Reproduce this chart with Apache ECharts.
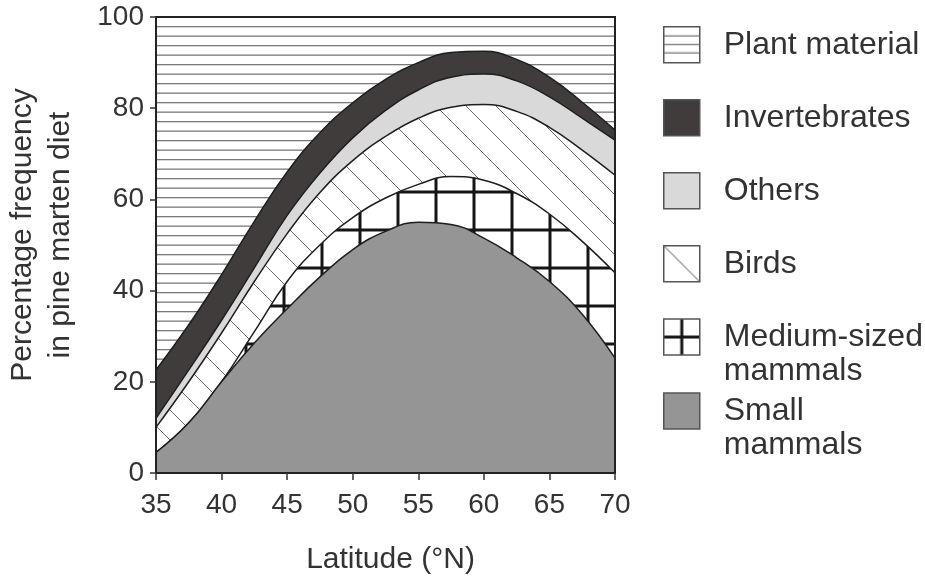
<!DOCTYPE html>
<html>
<head>
<meta charset="utf-8">
<script src="https://cdn.jsdelivr.net/npm/echarts@6/dist/echarts.min.js"></script>
<style>
html,body{margin:0;padding:0;background:#fff;}
#c{width:925px;height:579px;}
</style>
</head>
<body>
<div id="c"></div>
<script>
// ---- data ----
const latitudes = [35, 37.5, 40, 42.5, 45, 47.5, 50, 52.5, 55, 57.5, 60, 62.5, 65, 67.5, 70];
const smallMammals  = [4.5, 11, 20, 28.5, 36, 43, 49, 53, 55, 54.5, 51.5, 47.2, 42, 34.8, 25.2];
const mediumMammals = [0, 0, 0, 2.5, 6, 7, 7, 7.3, 8.3, 10.5, 12.7, 14.1, 14.8, 16, 18.7];
const birds         = [5.5, 9, 10.7, 11, 10.5, 11.5, 12.5, 13.5, 14.5, 15.2, 16.6, 18, 19, 20, 21.4];
const others        = [2, 2.6, 2.8, 3, 4, 4.3, 5, 5.7, 6.2, 6.6, 6.7, 6.7, 6.7, 7, 7.7];
const invertebrates = [10.6, 9.9, 10, 10.2, 9.5, 8.8, 7.7, 6.8, 6, 5.4, 5, 4.7, 4.3, 3.5, 2.2];
const plantMaterial = [77.4, 67.5, 56.5, 44.8, 34, 25.4, 18.8, 13.7, 10, 7.8, 7.5, 9.3, 13.2, 18.7, 24.8];
const seriesNames = ['Plant material', 'Invertebrates', 'Others', 'Birds', 'Medium-sized mammals', 'Small mammals'];
const xTicks = [35, 40, 45, 50, 55, 60, 65, 70];
const yTicks = [0, 20, 40, 60, 80, 100];

// ---- pattern helpers ----
function tile(w, h, draw) {
  const c = document.createElement('canvas');
  c.width = w; c.height = h;
  const ctx = c.getContext('2d');
  draw(ctx, w, h);
  return c;
}
const plantTile = tile(4, 19, (ctx, w, h) => {
  ctx.fillStyle = '#fff'; ctx.fillRect(0, 0, w, h);
  ctx.fillStyle = '#7a7a7a';
  ctx.fillRect(0, 7, w, 1.3);
  ctx.fillRect(0, 16.5, w, 1.3);
});
const birdTile = tile(30, 30, (ctx, w, h) => {
  ctx.fillStyle = '#fff'; ctx.fillRect(0, 0, w, h);
  ctx.strokeStyle = '#6a6a6a'; ctx.lineWidth = 1;
  for (const o of [-w, 0, w]) {
    ctx.beginPath(); ctx.moveTo(o - 2, -2); ctx.lineTo(o + w + 2, h + 2); ctx.stroke();
  }
});
const gridTile = tile(38, 38, (ctx, w, h) => {
  ctx.fillStyle = '#fff'; ctx.fillRect(0, 0, w, h);
  ctx.fillStyle = '#151515';
  ctx.fillRect(16.5, 0, 3, h);
  ctx.fillRect(0, 0.5, w, 3);
});
// legend icons
const plantIcon = tile(36, 36, (ctx, w, h) => {
  ctx.fillStyle = '#fff'; ctx.fillRect(0, 0, w, h);
  ctx.fillStyle = '#7a7a7a';
  [8.5, 17, 25.5].forEach(y => ctx.fillRect(0, y, w, 1.3));
});
const birdIcon = tile(36, 36, (ctx, w, h) => {
  ctx.fillStyle = '#fff'; ctx.fillRect(0, 0, w, h);
  ctx.strokeStyle = '#8a8a8a'; ctx.lineWidth = 1.2;
  ctx.beginPath(); ctx.moveTo(0, 0); ctx.lineTo(w, h); ctx.stroke();
});
const gridIcon = tile(36, 36, (ctx, w, h) => {
  ctx.fillStyle = '#fff'; ctx.fillRect(0, 0, w, h);
  ctx.fillStyle = '#151515';
  ctx.fillRect(16.5, 0, 3, h);
  ctx.fillRect(0, 16.5, w, 3);
});
const pat = (img) => ({ image: img, repeat: 'repeat' });

const fills = {
  'Plant material': pat(plantTile),
  'Invertebrates': '#403c3c',
  'Others': '#d9d9d9',
  'Birds': pat(birdTile),
  'Medium-sized mammals': pat(gridTile),
  'Small mammals': '#959595'
};
const iconFills = {
  'Plant material': pat(plantIcon),
  'Invertebrates': '#403c3c',
  'Others': '#d9d9d9',
  'Birds': pat(birdIcon),
  'Medium-sized mammals': pat(gridIcon),
  'Small mammals': '#959595'
};

// bottom to top
const layers = [
  ['Small mammals', smallMammals],
  ['Medium-sized mammals', mediumMammals],
  ['Birds', birds],
  ['Others', others],
  ['Invertebrates', invertebrates],
  ['Plant material', plantMaterial]
];
// cumulative tops; each layer's area is filled down to 0 and the layers
// below are painted over it (higher z), which gives the stacked look.
const running = latitudes.map(() => 0);
const series = layers.map(([name, vals], i) => {
  const tops = vals.map((v, k) => (running[k] = +(running[k] + v).toFixed(2)));
  return {
    name,
    type: 'line',
    smooth: 0.45,
    symbol: 'none',
    showSymbol: false,
    z: 10 - i,
    data: latitudes.map((x, k) => [x, tops[k]]),
    lineStyle: { color: '#1e1e1e', width: 1.5 },
    itemStyle: { color: fills[name] },
    areaStyle: { color: fills[name], opacity: 1, origin: 'start' },
    emphasis: { disabled: true },
    silent: true
  };
});

const FONT = '"Liberation Sans", Arial, Helvetica, sans-serif';
const iconCenters = [44, 117, 190, 263, 336, 410];
const labels = {
  'Medium-sized mammals': '\nMedium-sized\nmammals',
  'Small mammals': '\nSmall\nmammals'
};
const legends = seriesNames.map((name, i) => {
  const two = !!labels[name];
  return {
    show: true,
    left: 663,
    top: two ? iconCenters[i] - 50 : iconCenters[i] - 18,
    orient: 'vertical',
    padding: 0,
    itemWidth: 36,
    itemHeight: 36,
    selectedMode: false,
    icon: 'rect',
    formatter: (n) => labels[n] || n,
    textStyle: {
      fontFamily: FONT,
      fontSize: 32,
      color: '#333',
      lineHeight: two ? 34 : 36,
      padding: [0, 0, 0, 19]
    },
    data: [{
      name,
      icon: 'rect',
      itemStyle: { color: iconFills[name], borderColor: '#555', borderWidth: 1.5 }
    }]
  };
});

const chart = echarts.init(document.getElementById('c'), null, { renderer: 'canvas' });
chart.setOption({
  animation: false,
  backgroundColor: '#fff',
  grid: {
    left: 156, right: 310, top: 17, bottom: 106,
    containLabel: false,
    outerBoundsMode: 'none',
    show: true, borderColor: '#222', borderWidth: 2,
    backgroundColor: 'transparent', z: 20
  },
  legend: legends,
  xAxis: {
    type: 'value',
    min: xTicks[0], max: xTicks[xTicks.length - 1], interval: 5,
    z: 20,
    axisLine: { show: true, lineStyle: { color: '#222', width: 2 } },
    axisTick: { show: true, inside: false, length: 7, lineStyle: { color: '#333', width: 1.5 } },
    splitLine: { show: false },
    axisLabel: { fontFamily: FONT, fontSize: 28, color: '#333', margin: 18 },
    name: 'Latitude (°N)',
    nameLocation: 'middle',
    nameGap: 72,
    nameMoveOverlap: false,
    nameTextStyle: { fontFamily: FONT, fontSize: 30, color: '#333', padding: [0, 0, 0, 10] }
  },
  yAxis: {
    type: 'value',
    min: yTicks[0], max: yTicks[yTicks.length - 1], interval: 20,
    z: 20,
    axisLine: { show: true, lineStyle: { color: '#222', width: 2 } },
    axisTick: { show: true, inside: false, length: 6, lineStyle: { color: '#333', width: 1.5 } },
    splitLine: { show: false },
    axisLabel: { fontFamily: FONT, fontSize: 28, color: '#333', margin: 12 },
    name: 'Percentage frequency\nin pine marten diet',
    nameLocation: 'middle',
    nameGap: 76,
    nameMoveOverlap: false,
    nameTextStyle: { fontFamily: FONT, fontSize: 30, color: '#333', lineHeight: 38, align: 'center', padding: [0, 0, 0, 20] }
  },
  series
});
</script>
</body>
</html>
